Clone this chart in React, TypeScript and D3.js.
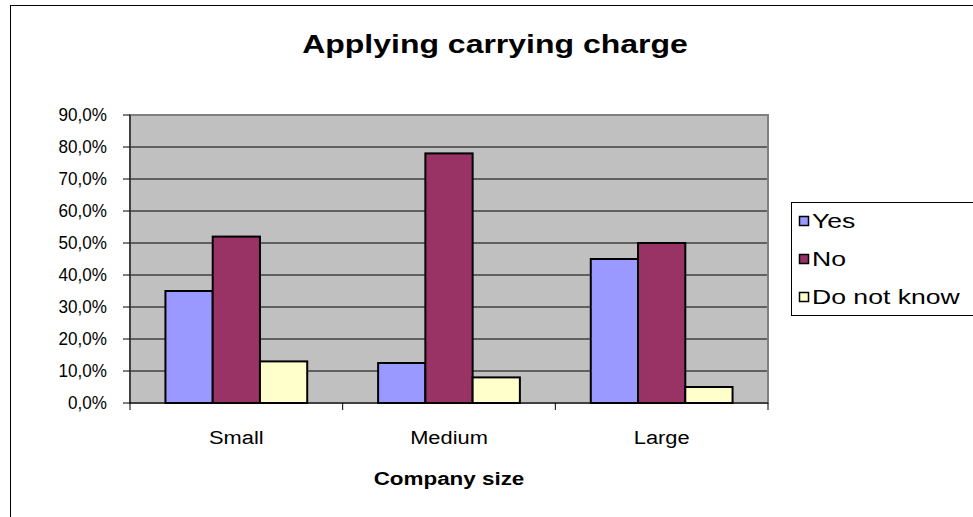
import React from "react";
import * as d3 from "d3";

// chart data
const sizes = ["Small", "Medium", "Large"];
const seriesNames = ["Yes", "No", "Do not know"];
const yesValues = [35, 12.5, 45];
const noValues = [52, 78, 50];
const dontKnowValues = [13, 8, 5];
const yTicks = [0, 10, 20, 30, 40, 50, 60, 70, 80, 90];

const seriesColors = ["#9999FF", "#993366", "#FFFFCC"];
const font = "'Liberation Sans', Arial, sans-serif";

// the source chart draws its text a bit wider than normal
function Label(props: { x: number; y: number; size: number; sx: number; anchor?: string; bold?: boolean; dy?: string; children: React.ReactNode }) {
  return (
    <text transform={`translate(${props.x},${props.y}) scale(${props.sx},1)`} dy={props.dy}
      textAnchor={props.anchor || "start"} fontSize={props.size} fontWeight={props.bold ? "bold" : "normal"}>
      {props.children}
    </text>
  );
}

export default function App() {
  const width = 973, height = 517;
  const plot = { left: 130, right: 768, top: 115, bottom: 403 };

  const series = [yesValues, noValues, dontKnowValues];

  // scales
  const x = d3.scaleBand().domain(sizes).range([plot.left, plot.right]).padding(0);
  const inner = d3.scaleBand().domain(seriesNames)
    .range([x.bandwidth() / 4.5 * 0.75, x.bandwidth() - x.bandwidth() / 4.5 * 0.75]);
  const y = d3.scaleLinear().domain([0, 90]).range([plot.bottom, plot.top]);
  const fmt = (v: number) => d3.format(".1f")(v).replace(".", ",") + "%";

  return (
    <svg width={width} height={height} style={{ position: "absolute", left: 0, top: 0, background: "#fff" }}
      fontFamily={font}>
      {/* chart border */}
      <rect x={10.5} y={5.5} width={990} height={540} fill="#fff" stroke="#000" strokeWidth={1} />

      <Label x={495} y={53} size={25} sx={1.28} anchor="middle" bold>Applying carrying charge</Label>

      {/* plot area */}
      <rect x={plot.left} y={plot.top} width={plot.right - plot.left} height={plot.bottom - plot.top} fill="#C0C0C0" />
      {yTicks.filter(t => t > 0 && t < 90).map(t => (
        <line key={t} x1={plot.left} x2={plot.right} y1={y(t)} y2={y(t)} stroke="#000" strokeWidth={1} />
      ))}
      <rect x={plot.left} y={plot.top} width={plot.right - plot.left} height={plot.bottom - plot.top}
        fill="none" stroke="#808080" strokeWidth={2} />

      {/* bars */}
      {sizes.map((s, i) => (
        <g key={s} transform={`translate(${x(s)},0)`}>
          {seriesNames.map((n, j) => (
            <rect key={n} x={inner(n)} y={y(series[j][i])} width={inner.bandwidth()}
              height={y(0) - y(series[j][i])} fill={seriesColors[j]} stroke="#000" strokeWidth={2} />
          ))}
        </g>
      ))}

      {/* y axis */}
      <line x1={plot.left} x2={plot.left} y1={plot.top} y2={plot.bottom} stroke="#000" />
      {yTicks.map(t => (
        <g key={t}>
          <line x1={plot.left - 7} x2={plot.left} y1={y(t)} y2={y(t)} stroke="#000" />
          <Label x={107} y={y(t)} dy="0.35em" size={18} sx={0.95} anchor="end">{fmt(t)}</Label>
        </g>
      ))}

      {/* x axis */}
      <line x1={plot.left} x2={plot.right} y1={plot.bottom} y2={plot.bottom} stroke="#000" />
      {[...sizes.map(s => x(s) as number), plot.right].map((v, i) => (
        <line key={i} x1={v} x2={v} y1={plot.bottom} y2={plot.bottom + 7} stroke="#000" />
      ))}
      {sizes.map(s => (
        <Label key={s} x={(x(s) as number) + x.bandwidth() / 2} y={444} size={19} sx={1.15} anchor="middle">{s}</Label>
      ))}
      <Label x={449} y={485} size={19} sx={1.18} anchor="middle" bold>Company size</Label>

      {/* legend */}
      <rect x={791.5} y={202.5} width={200} height={113} fill="#fff" stroke="#000" />
      {seriesNames.map((n, j) => (
        <g key={n} transform={`translate(799,${221 + j * 38})`}>
          <rect x={0.5} y={-4.5} width={9} height={9} fill={seriesColors[j]} stroke="#000" strokeWidth={1.5} />
          <Label x={13} y={0} dy="0.35em" size={20} sx={1.33}>{n}</Label>
        </g>
      ))}
    </svg>
  );
}
